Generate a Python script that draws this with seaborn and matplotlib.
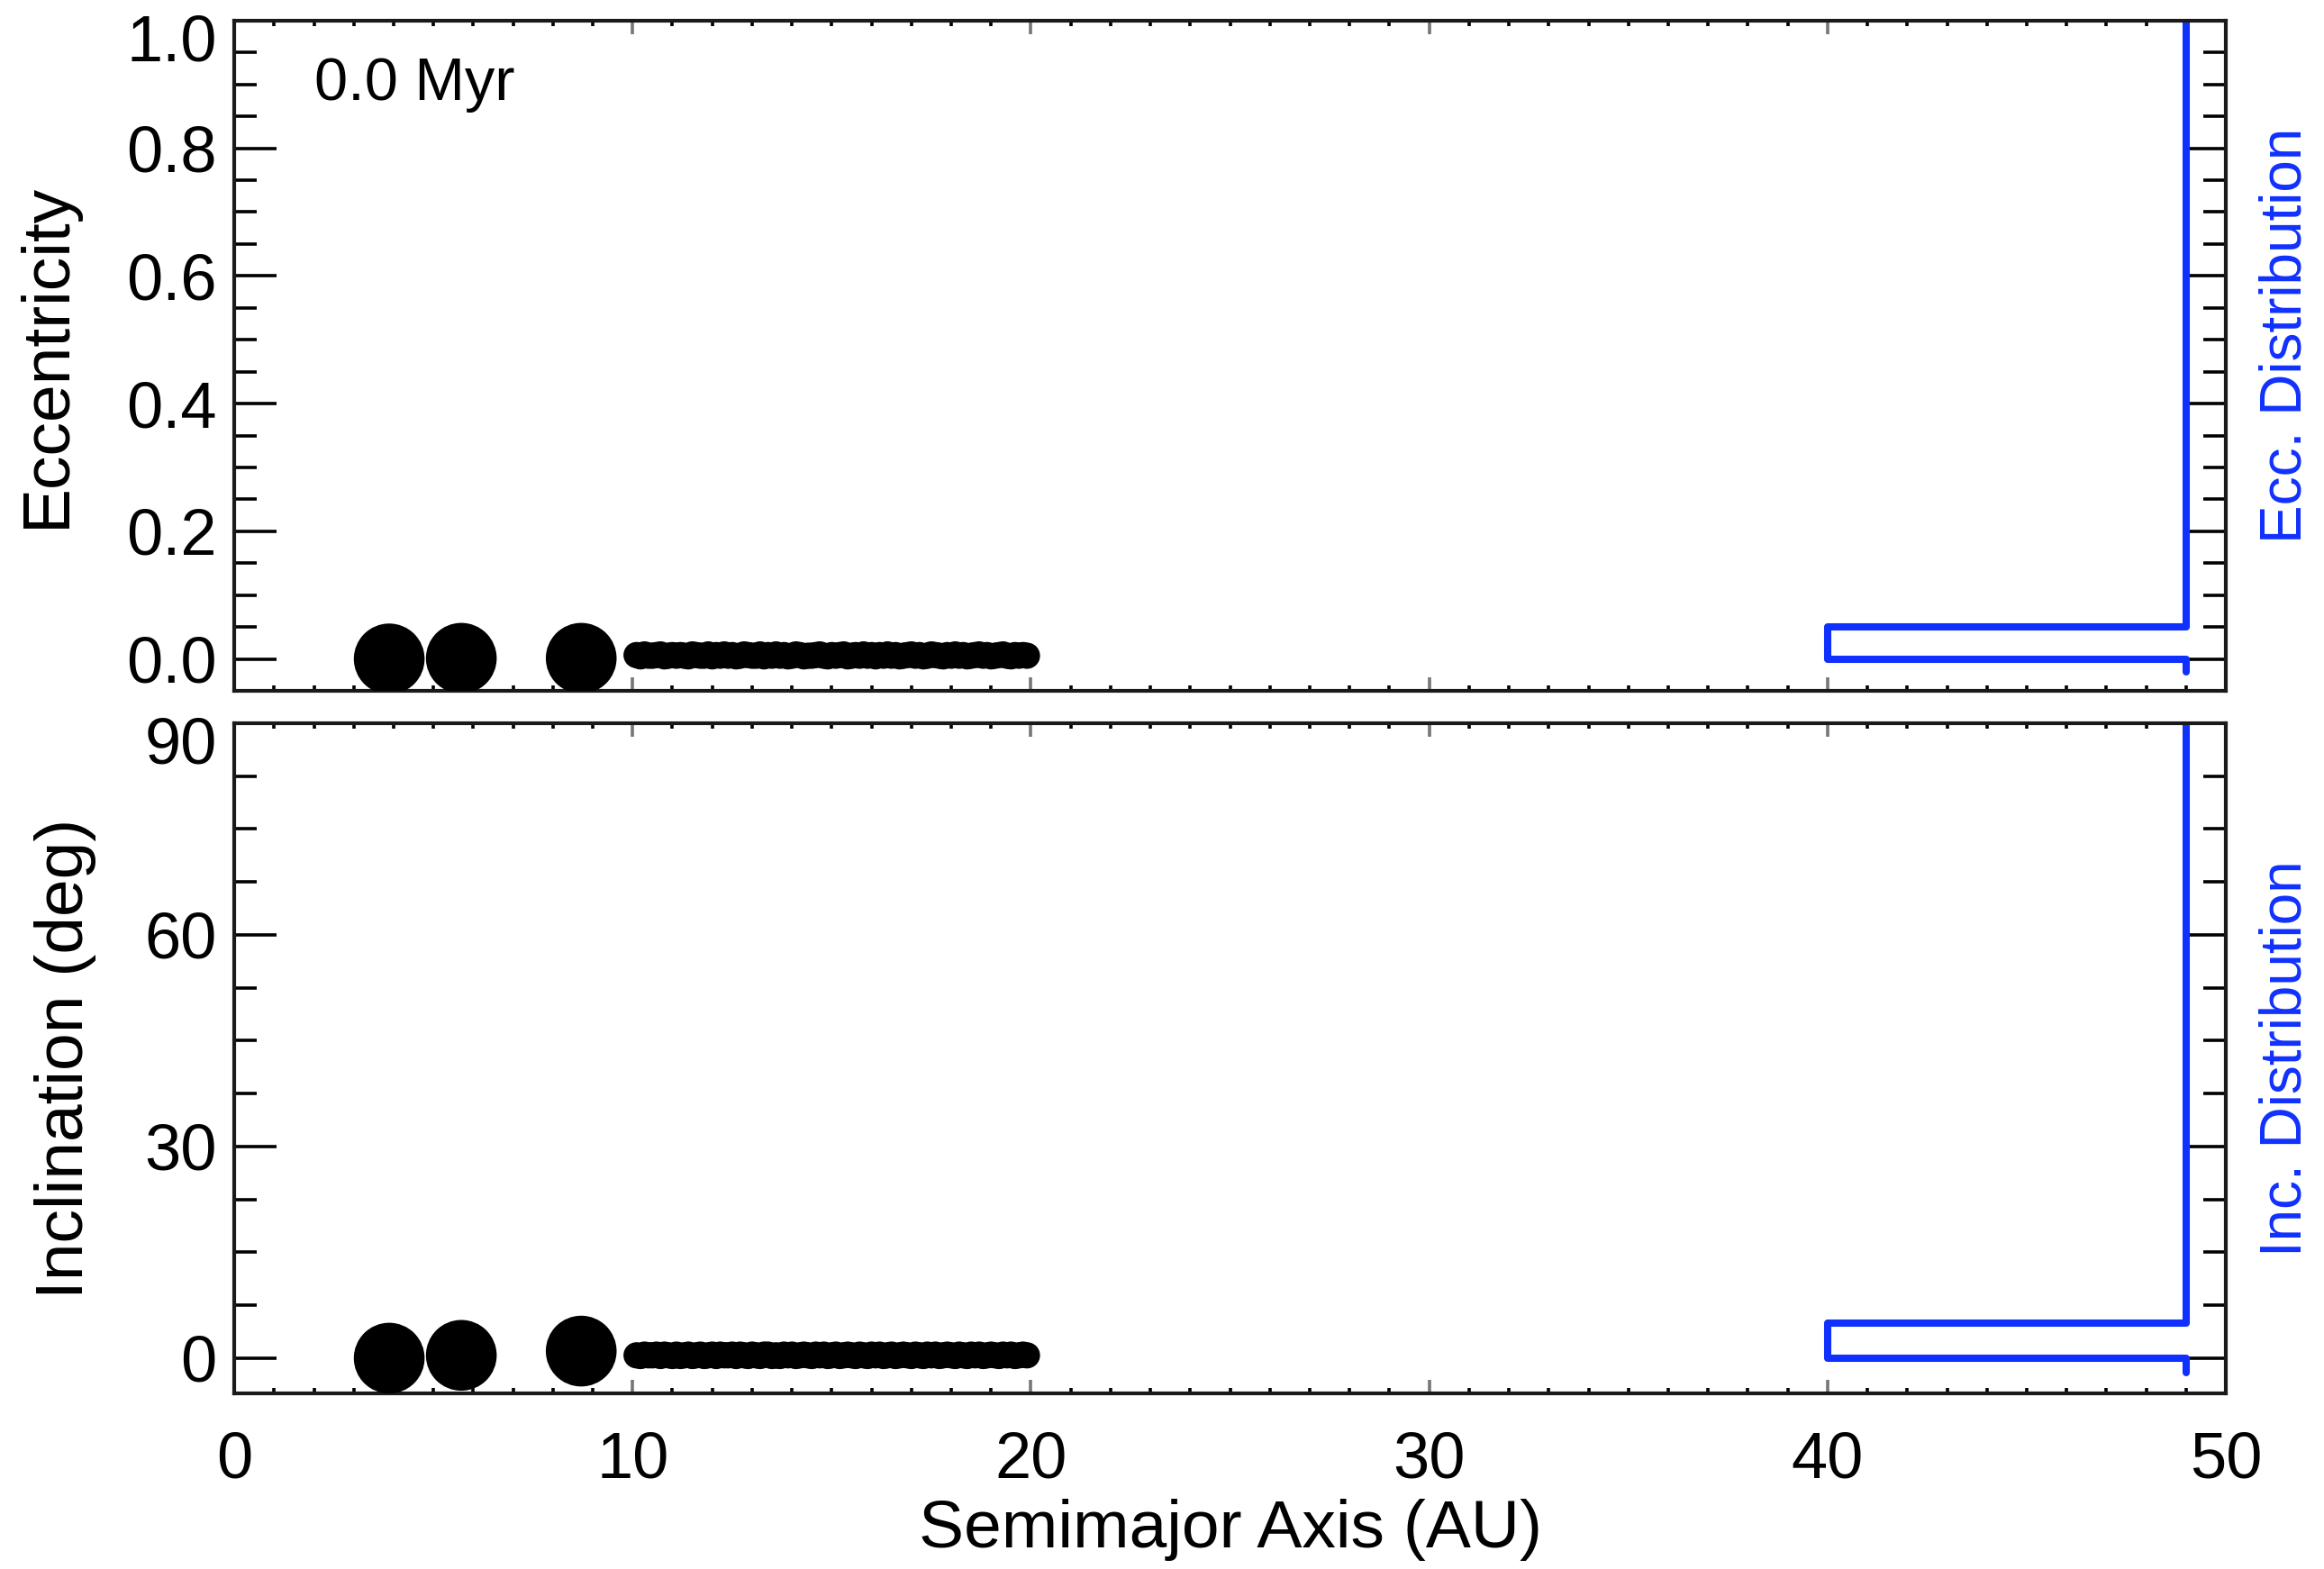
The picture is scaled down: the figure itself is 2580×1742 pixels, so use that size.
import numpy as np
import pandas as pd
import matplotlib
matplotlib.use("Agg")
import matplotlib.pyplot as plt
import matplotlib.transforms as mtransforms
import seaborn as sns
from matplotlib.ticker import MultipleLocator, FormatStrFormatter

# giant planets (big dots)
giant_a = [3.89, 5.70, 8.71]
giant_e = [0.0, 0.001, 0.001]
giant_i = [0.0, 0.4, 1.0]

# planetesimal disk (small dots, 10-20 AU)
disk_a = [10.1, 10.2, 10.3, 10.4, 10.5, 10.6, 10.7, 10.8, 10.9, 11.0,
          11.1, 11.2, 11.3, 11.4, 11.5, 11.6, 11.7, 11.8, 11.9, 12.0,
          12.1, 12.2, 12.3, 12.4, 12.5, 12.6, 12.7, 12.8, 12.9, 13.0,
          13.1, 13.2, 13.3, 13.4, 13.5, 13.6, 13.7, 13.8, 13.9, 14.0,
          14.1, 14.2, 14.3, 14.4, 14.5, 14.6, 14.7, 14.8, 14.9, 15.0,
          15.1, 15.2, 15.3, 15.4, 15.5, 15.6, 15.7, 15.8, 15.9, 16.0,
          16.1, 16.2, 16.3, 16.4, 16.5, 16.6, 16.7, 16.8, 16.9, 17.0,
          17.1, 17.2, 17.3, 17.4, 17.5, 17.6, 17.7, 17.8, 17.9, 18.0,
          18.1, 18.2, 18.3, 18.4, 18.5, 18.6, 18.7, 18.8, 18.9, 19.0,
          19.1, 19.2, 19.3, 19.4, 19.5, 19.6, 19.7, 19.8, 19.9]
disk_e = [0.006, 0.004, 0.007, 0.005, 0.005, 0.006, 0.007, 0.004, 0.005, 0.006,
          0.005, 0.006, 0.005, 0.004, 0.007, 0.006, 0.005, 0.005, 0.007, 0.004,
          0.006, 0.005, 0.007, 0.005, 0.006, 0.004, 0.005, 0.007, 0.006, 0.005,
          0.005, 0.007, 0.004, 0.006, 0.005, 0.007, 0.005, 0.006, 0.004, 0.005,
          0.007, 0.006, 0.004, 0.005, 0.005, 0.006, 0.007, 0.005, 0.004, 0.006,
          0.005, 0.006, 0.007, 0.004, 0.005, 0.006, 0.005, 0.007, 0.005, 0.006,
          0.004, 0.006, 0.005, 0.007, 0.005, 0.006, 0.004, 0.005, 0.006, 0.007,
          0.005, 0.006, 0.004, 0.005, 0.007, 0.006, 0.005, 0.004, 0.006, 0.005,
          0.007, 0.005, 0.006, 0.004, 0.005, 0.006, 0.007, 0.005, 0.006, 0.004,
          0.005, 0.006, 0.007, 0.005, 0.004, 0.006, 0.005, 0.006, 0.005]
disk_i = [0.4, 0.3, 0.5, 0.4, 0.4, 0.5, 0.3, 0.5, 0.4, 0.3,
          0.5, 0.3, 0.4, 0.5, 0.3, 0.4, 0.5, 0.3, 0.4, 0.5,
          0.3, 0.5, 0.4, 0.4, 0.5, 0.3, 0.5, 0.4, 0.3, 0.5,
          0.4, 0.3, 0.5, 0.5, 0.3, 0.4, 0.3, 0.5, 0.4, 0.5,
          0.3, 0.4, 0.5, 0.4, 0.3, 0.5, 0.4, 0.5, 0.3, 0.4,
          0.5, 0.3, 0.4, 0.5, 0.4, 0.3, 0.5, 0.4, 0.3, 0.5,
          0.4, 0.5, 0.3, 0.4, 0.5, 0.3, 0.4, 0.5, 0.4, 0.3,
          0.5, 0.4, 0.3, 0.5, 0.4, 0.5, 0.3, 0.4, 0.5, 0.4,
          0.3, 0.5, 0.4, 0.3, 0.5, 0.4, 0.5, 0.3, 0.4, 0.5,
          0.4, 0.3, 0.5, 0.4, 0.5, 0.3, 0.4, 0.5, 0.4]

time_label = "0.0 Myr"
ecc_bin = 0.05
inc_bin = 5.0
hist_x0, hist_x1 = 40.0, 49.0

BLUE = "#1030FF"

sns.set_style("ticks")
plt.rcParams['font.family'] = ['Liberation Sans', 'DejaVu Sans']
plt.rcParams['axes.edgecolor'] = '#1a1a1a'
plt.rcParams['axes.linewidth'] = 1.5
plt.rcParams['text.color'] = 'black'
plt.rcParams['axes.labelcolor'] = 'black'
plt.rcParams['xtick.color'] = 'black'
plt.rcParams['ytick.color'] = 'black'

df_g = pd.DataFrame({'a': giant_a, 'e': giant_e, 'i': giant_i})
df_d = pd.DataFrame({'a': disk_a, 'e': disk_e, 'i': disk_i})


def hist_path(values, width, top):
    # rotated step histogram: bins along y, counts mapped onto x between hist_x0 and hist_x1
    edges = np.arange(0, top + width, width)
    counts, _ = np.histogram(values, bins=edges)
    xs = hist_x1 - (hist_x1 - hist_x0) * counts / counts.max()
    px = [hist_x1, hist_x1] + list(np.repeat(xs, 2))
    py = [-0.4 * width, 0.0] + list(np.column_stack([edges[:-1], edges[1:]]).ravel())
    return pd.DataFrame({'x': px, 'y': py})


fig = plt.figure(figsize=(12.9, 8.71), dpi=200)
ax1 = fig.add_axes([0.1008, 0.5597, 0.857, 0.4272])
ax2 = fig.add_axes([0.1008, 0.1119, 0.857, 0.4272])

panels = [(ax1, 'e', ecc_bin, (-0.05, 1.0), "Eccentricity", "Ecc. Distribution", 0.53),
          (ax2, 'i', inc_bin, (-5, 90), "Inclination (deg)", "Inc. Distribution", 0.5)]

for ax, col, width, ylim, ylab, rlab, rpos in panels:
    sns.scatterplot(data=df_d, x='a', y=col, ax=ax, s=110, color='black',
                    edgecolor='none', linewidth=0, legend=False, zorder=3)
    sns.scatterplot(data=df_g, x='a', y=col, ax=ax, s=800, color='black',
                    edgecolor='none', linewidth=0, legend=False, zorder=4)
    all_vals = list(df_g[col]) + list(df_d[col])
    hp = hist_path(all_vals, width, ylim[1])
    sns.lineplot(data=hp, x='x', y='y', ax=ax, sort=False, estimator=None,
                 color=BLUE, linewidth=2.9, zorder=2)

    ax.set_xlim(0, 50)
    ax.set_ylim(*ylim)
    ax.xaxis.set_major_locator(MultipleLocator(10))
    ax.xaxis.set_minor_locator(MultipleLocator(1))
    ax.tick_params(axis='x', which='major', direction='in', length=5.5, width=1.3,
                   top=True, bottom=True, labelsize=26, pad=15, color='#777777')
    ax.tick_params(axis='x', which='minor', direction='in', length=2.2, width=1.3,
                   top=True, bottom=True)
    ax.tick_params(axis='y', which='major', direction='in', length=17, width=1.3,
                   left=True, right=True, labelsize=26, pad=7)
    ax.tick_params(axis='y', which='minor', direction='in', length=9, width=1.3,
                   left=True, right=True)
    ax.set_ylabel(ylab, fontsize=27, labelpad=19)
    ax.text(1.03, rpos, rlab, transform=ax.transAxes, rotation=90, color=BLUE,
            fontsize=23, ha='center', va='center')
    for sp in ax.spines.values():
        sp.set_visible(True)

ax1.yaxis.set_major_locator(MultipleLocator(0.2))
ax1.yaxis.set_minor_locator(MultipleLocator(0.05))
ax1.yaxis.set_major_formatter(FormatStrFormatter('%.1f'))
ax1.tick_params(axis='x', labelbottom=False)
ax1.set_xlabel("")
ax1.text(0.04, 0.905, time_label, transform=ax1.transAxes, fontsize=24,
         ha='left', va='center')

ax2.yaxis.set_major_locator(MultipleLocator(30))
ax2.yaxis.set_minor_locator(MultipleLocator(7.5))
ax2.set_xlabel("Semimajor Axis (AU)", fontsize=27, labelpad=3)

# the label at the very top of each panel sits a little lower, inside the frame
fig.canvas.draw()
shift = mtransforms.ScaledTranslation(0, -19 / 200, fig.dpi_scale_trans)
for ax in (ax1, ax2):
    top = ax.get_ylim()[1]
    for tick, loc in zip(ax.yaxis.get_major_ticks(), ax.yaxis.get_majorticklocs()):
        if abs(loc - top) < 1e-9:
            tick.label1.set_transform(tick.label1.get_transform() + shift)

fig.savefig("out.png", dpi=200)
